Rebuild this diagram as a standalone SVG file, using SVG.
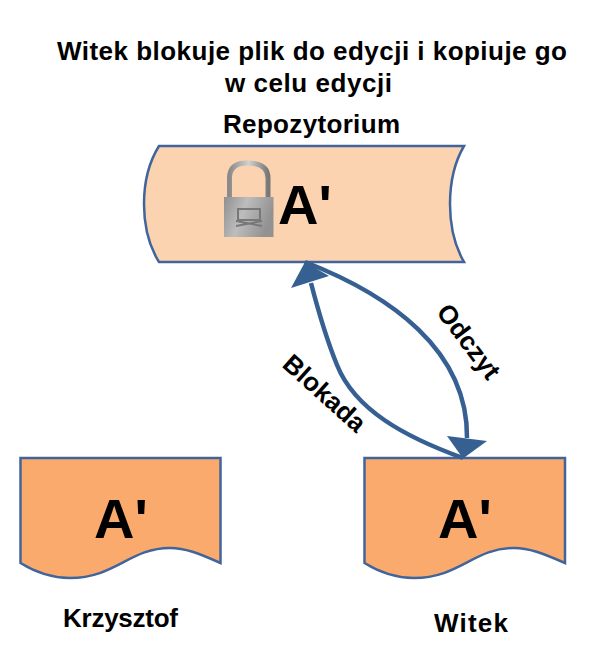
<svg xmlns="http://www.w3.org/2000/svg" width="594" height="654" viewBox="0 0 594 654">
<defs>
<style>
text{font-family:"Liberation Sans",Arial,sans-serif;font-weight:bold;fill:#000}
.lbl{font-size:26px}
.big{font-size:56px}
.shape{stroke:#41659a;stroke-width:2.5}
.conn{fill:none;stroke:#376092;stroke-width:4.500}
.head{fill:#376092;stroke:none}
</style>
<linearGradient id="body" x1="0" y1="0" x2="1" y2="0.3"><stop offset="0" stop-color="#8f8f8f"/><stop offset="0.45" stop-color="#bdbdbd"/><stop offset="1" stop-color="#929292"/></linearGradient>
<linearGradient id="shackle" x1="0" y1="0" x2="1" y2="0"><stop offset="0" stop-color="#8a8a8a"/><stop offset="0.5" stop-color="#d0d0d0"/><stop offset="1" stop-color="#777"/></linearGradient>
</defs>
<rect width="594" height="654" fill="#fff"/>
<g id="title">
<text x="57" y="60" font-size="26" textLength="510" lengthAdjust="spacing">Witek blokuje plik do edycji i kopiuje go</text>
<text x="225" y="92" font-size="26" textLength="167" lengthAdjust="spacing">w celu edycji</text>
</g>
<g id="repozytorium">
<text class="lbl" x="223" y="133" textLength="177" lengthAdjust="spacing">Repozytorium</text>
<path class="shape" fill="#fcd3b0" d="M159 146H464Q450 170 450 204Q450 238 464 262H159Q144 238 144 204Q144 170 159 146Z"/>
<g id="klodka">
<path d="M229.500 198V178Q229.500 163 247 163Q268 163 268 178V198" fill="none" stroke="url(#shackle)" stroke-width="5"/>
<rect x="224" y="197" width="49.500" height="40" fill="url(#body)"/>
<path d="M238 209H260V220H238ZM236 226L262 221M236 221L262 226" fill="none" stroke="#787878" stroke-width="2"/>
</g>
<text class="big" x="278" y="224">A'</text>
</g>
<g id="krzysztof">
<path class="shape" fill="#f9aa6c" d="M20.500 458H220.500V563C198 553 185 548 170 548C130 548 115 578 70 578C50 578 35 572 20.500 563Z"/>
<text class="big" x="94" y="538">A'</text>
<text class="lbl" x="63" y="627" textLength="115" lengthAdjust="spacing">Krzysztof</text>
</g>
<g id="witek">
<path class="shape" fill="#f9aa6c" d="M364.500 458H565V563C542 553 529 548 514 548C474 548 459 578 414 578C394 578 379 572 364.500 563Z"/>
<text class="big" x="438" y="538">A'</text>
<text class="lbl" x="434" y="632" textLength="74" lengthAdjust="spacing">Witek</text>
</g>
<g id="connectors">
<path class="conn" d="M305 262C390 295 468 350 467 438"/>
<path class="head" d="M463 458.500L447 436L487 441Z"/>
<path class="conn" d="M463 458C405 437 355 410 337 365C326 338 318 310 311 283"/>
<path class="head" d="M305 262L329 276L291 288Z"/>
<text class="lbl" transform="translate(468 342) rotate(53)" text-anchor="middle" y="8">Odczyt</text>
<text class="lbl" transform="translate(324 394) rotate(42)" text-anchor="middle" y="8">Blokada</text>
</g>
</svg>
